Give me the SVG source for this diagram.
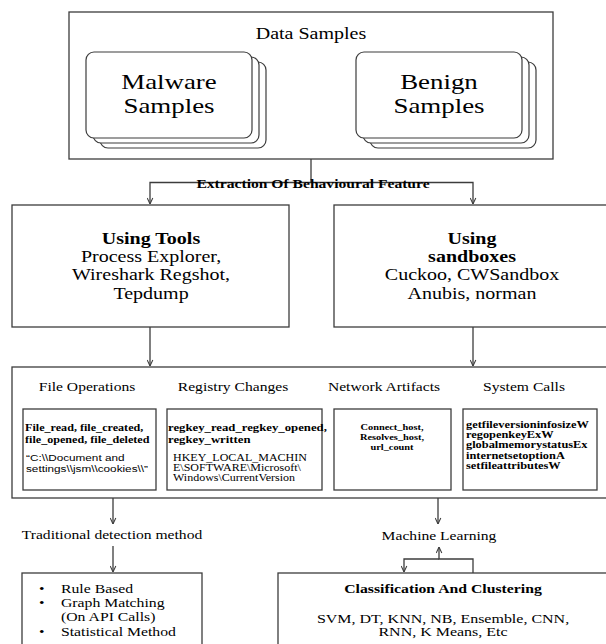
<svg xmlns="http://www.w3.org/2000/svg" width="606" height="644" viewBox="0 0 606 644">
  <defs>
    <style>
      .box { fill: #fff; stroke: #3c3c3c; stroke-width: 1.3; }
      .card { fill: #fff; stroke: #3c3c3c; stroke-width: 1.2; }
      .wire { fill: none; stroke: #3c3c3c; stroke-width: 1.3; }
      .t { font-family: "Liberation Serif", "Times New Roman", serif; fill: #000; }
      .s { font-family: "Liberation Sans", Arial, sans-serif; fill: #000; }
      .b { font-weight: bold; }
      .c { text-anchor: middle; }
    </style>
    <marker id="ah" viewBox="0 0 10 10" refX="9.5" refY="5" markerWidth="7" markerHeight="7" orient="auto" markerUnits="userSpaceOnUse">
      <path d="M1,1 L9.5,5 L1,9" fill="none" stroke="#3c3c3c" stroke-width="1.5"/>
    </marker>
  </defs>
  <rect width="606" height="644" fill="#fff"/>

  <!-- connectors -->
  <g id="connectors">
    <path class="wire" d="M311,159 V182.5"/>
    <path class="wire" d="M311,182.5 H150 V204" marker-end="url(#ah)"/>
    <path class="wire" d="M311,182.5 H473 V204" marker-end="url(#ah)"/>
    <path class="wire" d="M150,327 V366" marker-end="url(#ah)"/>
    <path class="wire" d="M473,327 V366" marker-end="url(#ah)"/>
    <path class="wire" d="M113,498 V524" marker-end="url(#ah)"/>
    <path class="wire" d="M438,498 V524" marker-end="url(#ah)"/>
    <path class="wire" d="M113,546 V572" marker-end="url(#ah)"/>
    <path class="wire" d="M473,573 V559 H439 V547" marker-end="url(#ah)"/>
    <path class="wire" d="M439,559 H404 V572" marker-end="url(#ah)"/>
  </g>

  <!-- data samples -->
  <g id="data-samples">
    <rect class="box" x="69" y="12" width="484" height="147"/>
    <text class="t c" font-size="16" transform="translate(311 39) scale(1.25 1)">Data Samples</text>
  </g>

  <g id="malware-samples">
    <rect class="card" x="100" y="62" width="166" height="86" rx="8"/>
    <rect class="card" x="93" y="57" width="166" height="86" rx="8"/>
    <rect class="card" x="86" y="52" width="166" height="86" rx="8"/>
    <text class="t c" font-size="21.5" transform="translate(169 89) scale(1.25 1)"><tspan x="0" y="0">Malware</tspan><tspan x="0" y="24">Samples</tspan></text>
  </g>

  <g id="benign-samples">
    <rect class="card" x="370" y="62" width="166" height="86" rx="8"/>
    <rect class="card" x="363" y="57" width="166" height="86" rx="8"/>
    <rect class="card" x="356" y="52" width="166" height="86" rx="8"/>
    <text class="t c" font-size="21.5" transform="translate(439 89) scale(1.25 1)"><tspan x="0" y="0">Benign</tspan><tspan x="0" y="24">Samples</tspan></text>
  </g>

  <g id="extraction-label">
    <text class="t b c" font-size="12.5" transform="translate(313 188) scale(1.25 1)">Extraction Of Behavioural Feature</text>
  </g>

  <!-- collection methods -->
  <g id="using-tools">
    <rect class="box" x="12" y="205" width="277" height="122"/>
    <text class="t c" font-size="16" transform="translate(151 243.5) scale(1.25 1)"><tspan class="b" x="0" y="0">Using Tools</tspan><tspan x="0" y="18.5">Process Explorer,</tspan><tspan x="0" y="37">Wireshark Regshot,</tspan><tspan x="0" y="55.5">Tepdump</tspan></text>
  </g>

  <g id="using-sandboxes">
    <rect class="box" x="334" y="205" width="280" height="122"/>
    <text class="t c" font-size="16" transform="translate(472 243.5) scale(1.25 1)"><tspan class="b" x="0" y="0">Using</tspan><tspan class="b" x="0" y="18.5">sandboxes</tspan><tspan x="0" y="37">Cuckoo, CWSandbox</tspan><tspan x="0" y="55.5">Anubis, norman</tspan></text>
  </g>

  <!-- behavioural features -->
  <g id="features">
    <rect class="box" x="12" y="367" width="602" height="131"/>
    <text class="t c" font-size="12.5" transform="translate(87 391) scale(1.25 1)">File Operations</text>
    <text class="t c" font-size="12.5" transform="translate(233 391) scale(1.25 1)">Registry Changes</text>
    <text class="t c" font-size="12.5" transform="translate(384 391) scale(1.25 1)">Network Artifacts</text>
    <text class="t c" font-size="12.5" transform="translate(524 391) scale(1.25 1)">System Calls</text>
  </g>

  <g id="file-operations">
    <rect class="box" x="23" y="409" width="133" height="81"/>
    <text class="t b" font-size="9.7" transform="translate(25 431) scale(1.25 1)"><tspan x="0" y="0">File_read, file_created,</tspan><tspan x="0" y="12">file_opened, file_deleted</tspan></text>
    <text class="s" font-size="9.4" transform="translate(26 460.5) scale(1.25 1)"><tspan x="0" y="0">“C:\\Document and</tspan><tspan x="0" y="12">settings\\jsm\\cookies\\”</tspan></text>
  </g>

  <g id="registry-changes">
    <rect class="box" x="167" y="409" width="155" height="81"/>
    <text class="t b" font-size="10.2" transform="translate(168 431) scale(1.25 1)"><tspan x="0" y="0">regkey_read_regkey_opened,</tspan><tspan x="0" y="12">regkey_written</tspan></text>
    <text class="t" font-size="9.6" transform="translate(173 460.5) scale(1.25 1)"><tspan x="0" y="0">HKEY_LOCAL_MACHIN</tspan><tspan x="0" y="10.5">E\SOFTWARE\Microsoft\</tspan><tspan x="0" y="21">Windows\CurrentVersion</tspan></text>
  </g>

  <g id="network-artifacts">
    <rect class="box" x="334" y="409" width="117" height="81"/>
    <text class="t b c" font-size="8.3" transform="translate(392 430) scale(1.25 1)"><tspan x="0" y="0">Connect_host,</tspan><tspan x="0" y="10">Resolves_host,</tspan><tspan x="0" y="20">url_count</tspan></text>
  </g>

  <g id="system-calls">
    <rect class="box" x="463" y="409" width="134" height="81"/>
    <text class="t b" font-size="9.9" transform="translate(466 428) scale(1.25 1)"><tspan x="0" y="0">getfileversioninfosizeW</tspan><tspan x="0" y="10.2">regopenkeyExW</tspan><tspan x="0" y="20.4">globalmemorystatusEx</tspan><tspan x="0" y="30.6">internetsetoptionA</tspan><tspan x="0" y="40.8">setfileattributesW</tspan></text>
  </g>

  <!-- detection approaches -->
  <g id="traditional-label">
    <text class="t c" font-size="12.5" transform="translate(112 539) scale(1.25 1)">Traditional detection method</text>
  </g>

  <g id="ml-label">
    <text class="t c" font-size="12.5" transform="translate(439 540) scale(1.25 1)">Machine Learning</text>
  </g>

  <g id="traditional-methods">
    <rect class="box" x="22" y="573" width="180" height="90"/>
    <text class="t" font-size="12.6" transform="translate(39 592.5) scale(1.25 1)"><tspan x="0" y="0">•</tspan><tspan x="0" y="14.5">•</tspan><tspan x="0" y="43.5">•</tspan></text>
    <text class="t" font-size="12.6" transform="translate(61 592.5) scale(1.25 1)"><tspan x="0" y="0">Rule Based</tspan><tspan x="0" y="14.5">Graph Matching</tspan><tspan x="0" y="29">(On API Calls)</tspan><tspan x="0" y="43.5">Statistical Method</tspan></text>
  </g>

  <g id="classification">
    <rect class="box" x="278" y="573" width="340" height="90"/>
    <text class="t b c" font-size="12.6" transform="translate(443 593) scale(1.25 1)">Classification And Clustering</text>
    <text class="t c" font-size="12.8" transform="translate(443 622.5) scale(1.25 1)"><tspan x="0" y="0">SVM, DT, KNN, NB, Ensemble, CNN,</tspan><tspan x="0" y="14">RNN, K Means, Etc</tspan></text>
  </g>
</svg>
